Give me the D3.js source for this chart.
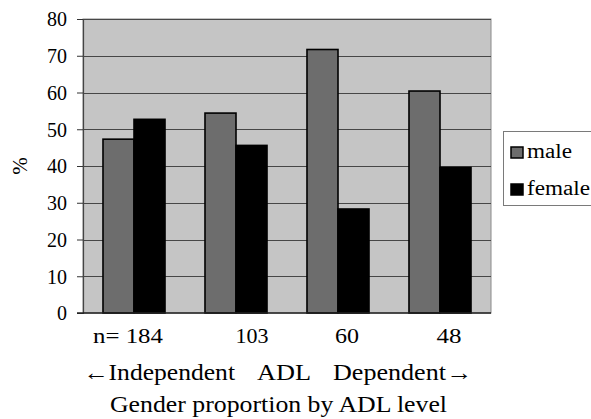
<!DOCTYPE html>
<html>
<head>
<meta charset="utf-8">
<script src="https://cdn.jsdelivr.net/npm/d3@7"></script>
<style>
  html, body { margin: 0; padding: 0; background: #fff; }
  svg { display: block; }
  svg text { font-family: "Times New Roman", "Liberation Serif", Tinos, Times, serif !important; fill: #000; }
</style>
</head>
<body>
<svg id="chart" width="591" height="419"></svg>
<script>
// ---- data ----
const categories = ["n= 184", "103", "60", "48"];
const seriesNames = ["male", "female"];
const maleValues = [47.3, 54.4, 71.7, 60.4];
const femaleValues = [52.7, 45.6, 28.3, 39.6];
const yTicks = [0, 10, 20, 30, 40, 50, 60, 70, 80];
const yLabel = "%";
const axisLine2 = ["←Independent", "ADL", "Dependent→"];
const chartTitle = "Gender proportion by ADL level";

// ---- layout ----
const svg = d3.select("#chart");
const plot = { left: 83, right: 491, top: 19, bottom: 313 };
const colors = { male: "#6d6d6d", female: "#000000" };

const x = d3.scaleBand().domain(categories).range([plot.left, plot.right])
  .paddingInner(0.392).paddingOuter(0.196);
const xs = d3.scaleBand().domain(seriesNames).range([0, x.bandwidth()]).padding(0);
const y = d3.scaleLinear().domain([0, 80]).range([plot.bottom, plot.top]);

// plot background
svg.append("rect")
  .attr("x", plot.left).attr("y", plot.top)
  .attr("width", plot.right - plot.left).attr("height", plot.bottom - plot.top)
  .attr("fill", "#c5c5c5").attr("stroke", "#8a8a8a").attr("stroke-width", 1);

// gridlines
svg.append("g").selectAll("line").data(yTicks.filter(d => d > 0)).join("line")
  .attr("x1", plot.left).attr("x2", plot.right)
  .attr("y1", d => Math.round(y(d)) + 0.5).attr("y2", d => Math.round(y(d)) + 0.5)
  .attr("stroke", "#474747").attr("stroke-width", 1);

// y axis
const yAxis = d3.axisLeft(y).tickValues(yTicks).tickSize(6).tickPadding(10);
const yg = svg.append("g").attr("transform", `translate(${plot.left},0)`).call(yAxis);
yg.attr("font-family", null).attr("font-size", null);
yg.select(".domain").attr("stroke", "#444").attr("stroke-width", 1.2);
yg.selectAll(".tick line").attr("stroke", "#333");
yg.selectAll(".tick text").style("font-size", "20px").attr("fill", "#000").attr("dy", "0.34em");

// bars
const rows = categories.map((c, i) => ({ cat: c, vals: [
  { s: "male", v: maleValues[i] }, { s: "female", v: femaleValues[i] }] }));
const groups = svg.append("g").selectAll("g").data(rows).join("g")
  .attr("transform", d => `translate(${x(d.cat)},0)`);
groups.selectAll("rect").data(d => d.vals).join("rect")
  .attr("x", d => xs(d.s)).attr("width", xs.bandwidth())
  .attr("y", d => y(d.v)).attr("height", d => y(0) - y(d.v))
  .attr("fill", d => colors[d.s]).attr("stroke", "#000").attr("stroke-width", 1.6);

// x axis baseline
svg.append("line").attr("x1", plot.left - 6).attr("x2", plot.right)
  .attr("y1", y(0)).attr("y2", y(0)).attr("stroke", "#222").attr("stroke-width", 1.5);

// category labels
const catDx = [-6, 16, 9, 9];
const catWidths = [70, 33, 24, 25];
svg.append("g").selectAll("text").data(categories).join("text")
  .attr("x", (d, i) => x(d) + x.bandwidth() / 2 + catDx[i])
  .attr("y", 343).attr("text-anchor", "middle")
  .attr("textLength", (d, i) => catWidths[i]).attr("lengthAdjust", "spacingAndGlyphs")
  .style("font-size", "22px").text(d => d);

// second line
const line2X = [83, 257, 333];
const line2W = [152, 54, 139];
svg.append("g").selectAll("text").data(axisLine2).join("text")
  .attr("x", (d, i) => line2X[i]).attr("y", 380)
  .attr("textLength", (d, i) => line2W[i]).attr("lengthAdjust", "spacingAndGlyphs")
  .style("font-size", "23px").text(d => d);

// title
svg.append("text").attr("x", 110).attr("y", 412)
  .attr("textLength", 337).attr("lengthAdjust", "spacingAndGlyphs")
  .style("font-size", "23px").text(chartTitle);

// y label
svg.append("text").attr("transform", "translate(27,166) rotate(-90)")
  .attr("text-anchor", "middle").style("font-size", "21px").text(yLabel);

// legend
const legendW = [45, 63];
const lg = svg.append("g");
lg.append("rect").attr("x", 503.5).attr("y", 131.5).attr("width", 100).attr("height", 74)
  .attr("fill", "#fff").attr("stroke", "#7a7a7a").attr("stroke-width", 1);
const li = lg.selectAll("g").data(seriesNames).join("g")
  .attr("transform", (d, i) => `translate(0,${i * 37})`);
li.append("rect").attr("x", 511).attr("y", 147).attr("width", 12).attr("height", 11)
  .attr("fill", d => colors[d]).attr("stroke", "#000").attr("stroke-width", 1.5);
li.append("text").attr("x", 527).attr("y", 158)
  .attr("textLength", (d, i) => legendW[i]).attr("lengthAdjust", "spacingAndGlyphs")
  .style("font-size", "20px").text(d => d);
</script>
</body>
</html>
